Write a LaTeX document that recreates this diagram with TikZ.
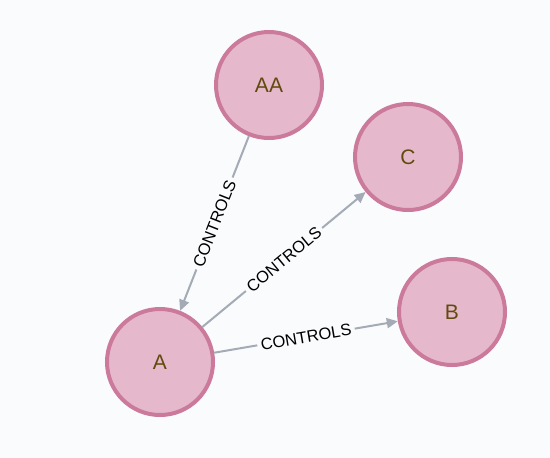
\documentclass[tikz,border=0pt]{standalone}
\usepackage{fontspec}
\setmainfont{Liberation Sans}
\usetikzlibrary{arrows.meta, positioning}

\definecolor{canvas}{HTML}{F9FBFD}
\definecolor{nodefill}{HTML}{E5B9CB}
\definecolor{nodeline}{HTML}{CC7A9B}
\definecolor{nodetext}{HTML}{604A0E}
\definecolor{reltext}{HTML}{000000}
\definecolor{relline}{HTML}{A5ABB6}

\begin{document}
\begin{tikzpicture}[
    x=1pt, y=-1pt,
    entity/.style={circle, draw=nodeline, fill=nodefill, line width=4pt, minimum size=106pt, inner sep=0pt, text=nodetext, font=\fontsize{21}{21}\selectfont},
    rel/.style={-{Triangle[length=11pt, width=10pt]}, draw=relline, line width=2pt},
    rellabel/.style={midway, sloped, fill=canvas, inner sep=3.5pt, text=reltext, font=\fontsize{16.5}{16.5}\selectfont}
]

% Canvas
\fill[canvas] (0,0) rectangle (550,458);
\useasboundingbox (0,0) rectangle (550,458);

% Entities
\node[entity] (AA) at (269,85) {AA};
\node[entity] (C) at (408,157) {C};
\node[entity] (B) at (452,312) {B};
\node[entity] (A) at (160,362) {A};

% Relations
\draw[rel] (AA) -- (A) node[rellabel] {CONTROLS};
\draw[rel] (A) -- (C) node[rellabel] {CONTROLS};
\draw[rel] (A) -- (B) node[rellabel] {CONTROLS};

\end{tikzpicture}
\end{document}
